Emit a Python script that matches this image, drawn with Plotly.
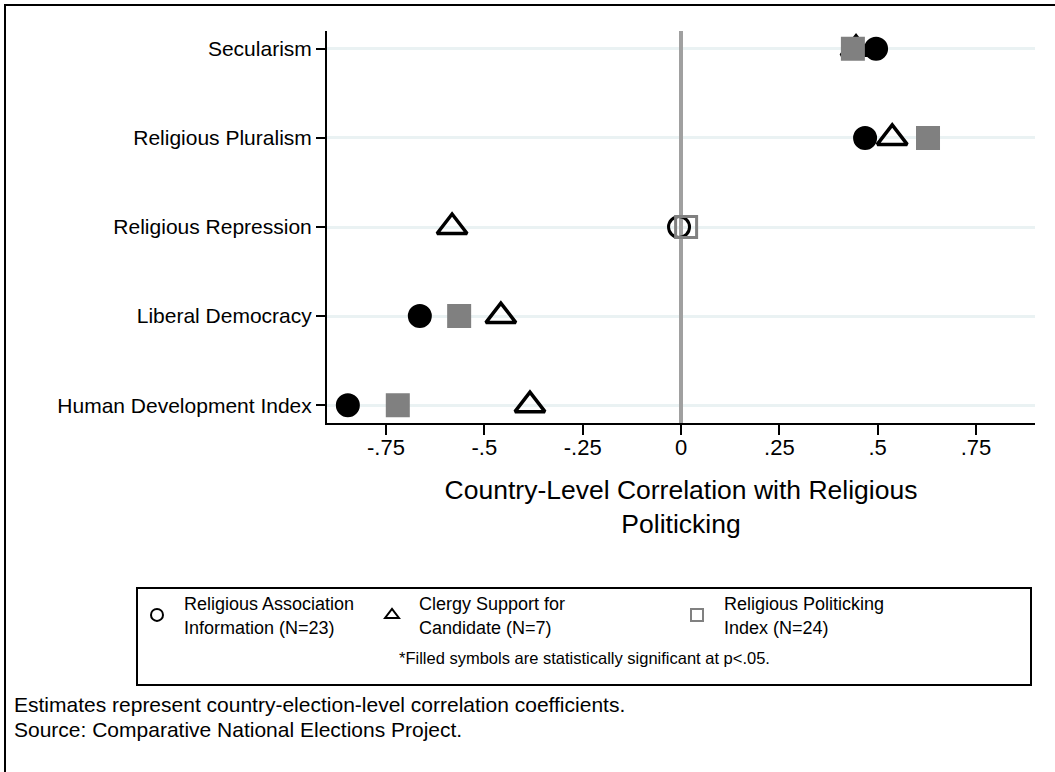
import plotly.graph_objects as go

# ---------------- data ----------------
categories = ["Human Development Index", "Liberal Democracy", "Religious Repression",
              "Religious Pluralism", "Secularism"]
assoc_vals = [-0.847, -0.664, -0.005, 0.468, 0.496]     # Religious Association Information
clergy_vals = [-0.384, -0.458, -0.582, 0.537, 0.445]    # Clergy Support for Candidate
index_vals = [-0.72, -0.564, 0.013, 0.628, 0.437]       # Religious Politicking Index
assoc_sig = [True, True, False, True, True]
clergy_sig = [False, False, False, False, True]
index_sig = [True, True, False, True, True]

series_names = ["Religious Association<br>Information (N=23)",
                "Clergy Support for<br>Candidate (N=7)",
                "Religious Politicking<br>Index (N=24)"]
tick_vals = [-0.75, -0.5, -0.25, 0, 0.25, 0.5, 0.75]
tick_text = ["-.75", "-.5", "-.25", "0", ".25", ".5", ".75"]

title_text = "Figure 4. Religious Politicking and Country-Level Explanatory Variables"
x_title = "Country-Level Correlation with Religious<br>Politicking"
note_text = "*Filled symbols are statistically significant at p<.05."
foot_lines = ["Estimates represent country-election-level correlation coefficients.",
              "Source: Comparative National Elections Project."]

FONT = "Liberation Sans, Arial, sans-serif"
GRAY = "#808080"

W, H = 1055, 772
L, R, T, B = 327, 20, 31, 349
PW, PH = W - L - R, H - T - B


def px_x(px):
    return (px - L) / PW


def px_y(py):
    return (H - B - py) / PH


def sym(base, sig):
    return [base if s else base + "-open" for s in sig]


fig = go.Figure()

# data traces
fig.add_trace(go.Scatter(
    x=assoc_vals, y=categories, mode="markers", showlegend=False,
    marker=dict(symbol=sym("circle", assoc_sig), size=21, color="black",
                line=dict(color="black", width=3))))
fig.add_trace(go.Scatter(
    x=clergy_vals, y=categories, mode="markers", showlegend=False,
    marker=dict(symbol=sym("triangle-up", clergy_sig), size=26, color="black",
                line=dict(color="black", width=3.5))))
fig.add_trace(go.Scatter(
    x=index_vals, y=categories, mode="markers", showlegend=False,
    marker=dict(symbol=sym("square", index_sig), size=21, color=GRAY,
                line=dict(color=GRAY, width=3))))

# legend-only traces (hollow symbols), each in its own legend box
leg_syms = ["circle-open", "triangle-up-open", "square-open"]
leg_cols = ["black", "black", GRAY]
leg_ids = ["legend", "legend2", "legend3"]
for name, s, c, lid in zip(series_names, leg_syms, leg_cols, leg_ids):
    fig.add_trace(go.Scatter(
        x=[None], y=[None], mode="markers", name=name, legend=lid,
        marker=dict(symbol=s, size=16, color=c, line=dict(color=c, width=3))))

leg_common = dict(orientation="v", xanchor="left", yanchor="middle",
                  bgcolor="rgba(0,0,0,0)", borderwidth=0, itemwidth=44,
                  font=dict(family=FONT, size=18, color="black"), itemsizing="constant")

fig.update_layout(
    width=W, height=H,
    margin=dict(l=L, r=R, t=T, b=B),
    paper_bgcolor="white", plot_bgcolor="white",
    legend=dict(x=px_x(130), y=px_y(615), **leg_common),
    legend2=dict(x=px_x(365), y=px_y(615), **leg_common),
    legend3=dict(x=px_x(670), y=px_y(615), **leg_common),
    xaxis=dict(range=[-0.9, 0.9], tickvals=tick_vals, ticktext=tick_text,
               showgrid=False, zeroline=True, zerolinecolor="#A0A0A0", zerolinewidth=3.5,
               showline=True, linecolor="black", linewidth=2,
               ticks="outside", ticklen=10, tickwidth=2, tickcolor="black",
               ticklabelstandoff=-6,
               tickfont=dict(family=FONT, size=22, color="black"),
               title=dict(text=x_title, font=dict(family=FONT, size=26.5, color="black"),
                          standoff=21)),
    yaxis=dict(type="category", categoryorder="array", categoryarray=categories,
               range=[-0.2, 4.2], showgrid=True, gridcolor="#EAF2F3", gridwidth=2.5,
               showline=True, linecolor="black", linewidth=2,
               ticks="outside", ticklen=9, tickwidth=2, tickcolor="black",
               tickfont=dict(family=FONT, size=21, color="black")),
    shapes=[
        # outer frame (only top/left edges fall inside the page)
        dict(type="rect", xref="paper", yref="paper",
             x0=px_x(5), x1=px_x(1070), y0=px_y(790), y1=px_y(5),
             line=dict(color="black", width=2), fillcolor="rgba(0,0,0,0)"),
        # legend box
        dict(type="rect", xref="paper", yref="paper",
             x0=px_x(137), x1=px_x(1031), y0=px_y(685), y1=px_y(588),
             line=dict(color="black", width=2), fillcolor="rgba(0,0,0,0)"),
    ],
    annotations=[
        dict(text="<b>" + title_text + "</b>", xref="paper", yref="paper",
             x=px_x(44), y=px_y(-18), xanchor="left", yanchor="middle", showarrow=False,
             font=dict(family="Liberation Serif, Times New Roman, serif", size=32, color="black")),
        dict(text=note_text, xref="paper", yref="paper", x=px_x(584), y=px_y(658),
             xanchor="center", yanchor="middle", showarrow=False,
             font=dict(family=FONT, size=16.5, color="black")),
        dict(text=foot_lines[0], xref="paper", yref="paper", x=px_x(12), y=px_y(704),
             xanchor="left", yanchor="middle", showarrow=False,
             font=dict(family=FONT, size=21, color="black")),
        dict(text=foot_lines[1], xref="paper", yref="paper", x=px_x(12), y=px_y(729),
             xanchor="left", yanchor="middle", showarrow=False,
             font=dict(family=FONT, size=21, color="black")),
    ],
)

fig.write_html("out.html", config={"displayModeBar": False},
               post_script="document.body.style.margin='0px';")
